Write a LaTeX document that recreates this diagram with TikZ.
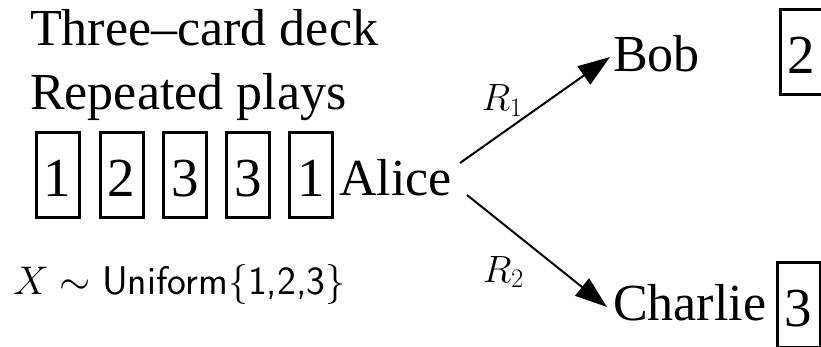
\RequirePackage{fix-cm}
\documentclass[tikz,border=0pt]{standalone}
\usepackage[no-math]{fontspec}
\setmainfont{Liberation Serif}
\usetikzlibrary{arrows.meta}
\begin{document}
\begin{tikzpicture}[x=1pt,y=-1pt,
  big/.style={font=\rmfamily\fontsize{52}{60}\selectfont, inner sep=0pt, anchor=base west},
  card/.style={draw, line width=3pt, minimum width=43pt, minimum height=85pt,
    inner sep=0pt, text height=43pt, text depth=0pt,
    font=\rmfamily\fontsize{55}{60}\selectfont},
  link/.style={line width=2pt, -{Triangle[length=32pt,width=22pt]}},
  lab/.style={font=\fontsize{38}{44}\selectfont, inner sep=0pt}]
\useasboundingbox (0,0) rectangle (821,347);

% headings
\node[big] (t1) at (30,46) {Three--card deck};
\node[big] (t2) at (30,110) {Repeated plays};

% Alice's sequence of cards
\node[card] (c1) at (57.5,175.5) {1};
\node[card] (c2) at (121.5,175.5) {2};
\node[card] (c3) at (185,175.5) {3};
\node[card] (c4) at (248,175.5) {3};
\node[card] (c5) at (311,175.5) {1};

% players
\node[big] (alice) at (339,196) {Alice};
\node[big] (bob) at (613,72) {Bob};
\node[big] (charlie) at (613,320) {Charlie};

% cards received
\node[card] (cb) at (801.5,52.5) {2};
\node[card] (cc) at (798.5,304.5) {3};

% distribution
\node[anchor=base west, inner sep=0pt, font=\fontsize{40}{48}\selectfont] (dist) at (13,294)
  {$X\sim\textsf{Uniform}\{\textsf{1,2,3}\}$};

% channels
\draw[link] ([shift={(8,-33)}]alice.base east)
  -- node[lab, pos=0.28, yshift=33pt] {$R_1$} ([shift={(-3,-15)}]bob.base west);
\draw[link] ([shift={(15,-1)}]alice.base east)
  -- node[lab, pos=0.26, yshift=-48pt] {$R_2$} ([shift={(-6,-13)}]charlie.base west);
\end{tikzpicture}
\end{document}
